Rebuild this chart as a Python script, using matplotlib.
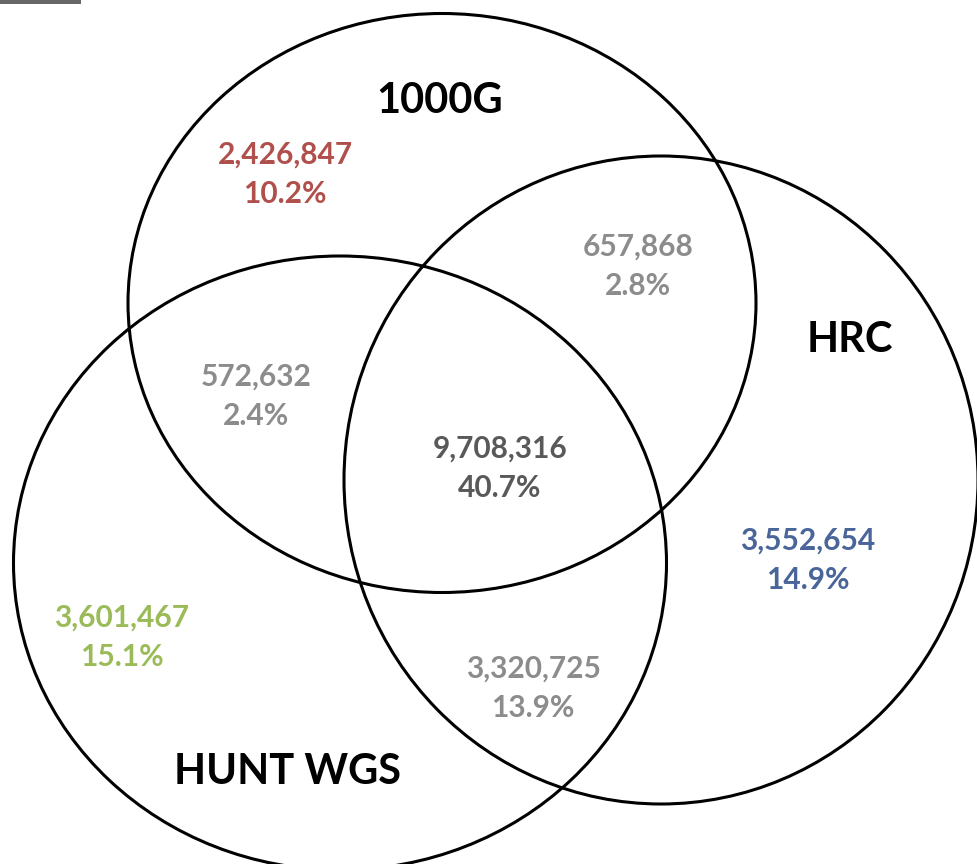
import matplotlib.pyplot as plt
from matplotlib.patches import Ellipse, Rectangle

# set names
set_names = ["1000G", "HRC", "HUNT WGS"]

# region counts and shares
regions = ["1000G only", "1000G & HRC", "1000G & HUNT", "all three",
           "HRC only", "HUNT only", "HRC & HUNT"]
counts = [2426847, 657868, 572632, 9708316, 3552654, 3601467, 3320725]
percents = [10.2, 2.8, 2.4, 40.7, 14.9, 15.1, 13.9]

# layout in pixel coordinates (x, y from top-left)
circle_geom = [(442, 303, 628, 579), (661, 480, 634, 648), (340, 563, 653, 614)]
name_pos = [(440, 101), (850, 340), (287, 772)]
region_pos = [(285, 174), (638, 266), (256, 396), (500, 468),
              (808, 560), (122, 637), (533, 688)]
region_colors = ["#B0504D", "#8C8C8C", "#8C8C8C", "#595959",
                 "#4A6599", "#9BBB59", "#8C8C8C"]

plt.rcParams['font.family'] = ['Lato', 'DejaVu Sans']

fig = plt.figure(figsize=(9.78, 8.64), dpi=100)
ax = fig.add_axes([0, 0, 1, 1])
ax.set_xlim(0, 978)
ax.set_ylim(864, 0)
ax.axis("off")

# small gray bar at the top-left corner
ax.add_patch(Rectangle((0, 0), 81, 3.5, color="#666666", lw=0))

for cx, cy, w, h in circle_geom:
    ax.add_patch(Ellipse((cx, cy), w, h, fill=False, ec="black", lw=2.2))

for name, (x, y) in zip(set_names, name_pos):
    ax.text(x, y, name, ha="center", va="center", fontsize=30,
            fontweight="bold", color="black")

for n, p, c, (x, y) in zip(counts, percents, region_colors, region_pos):
    ax.text(x, y, f"{n:,}\n{p}%", ha="center", va="center", fontsize=21.5,
            fontweight="bold", color=c, linespacing=1.5)

fig.savefig("out.png", dpi=100)
